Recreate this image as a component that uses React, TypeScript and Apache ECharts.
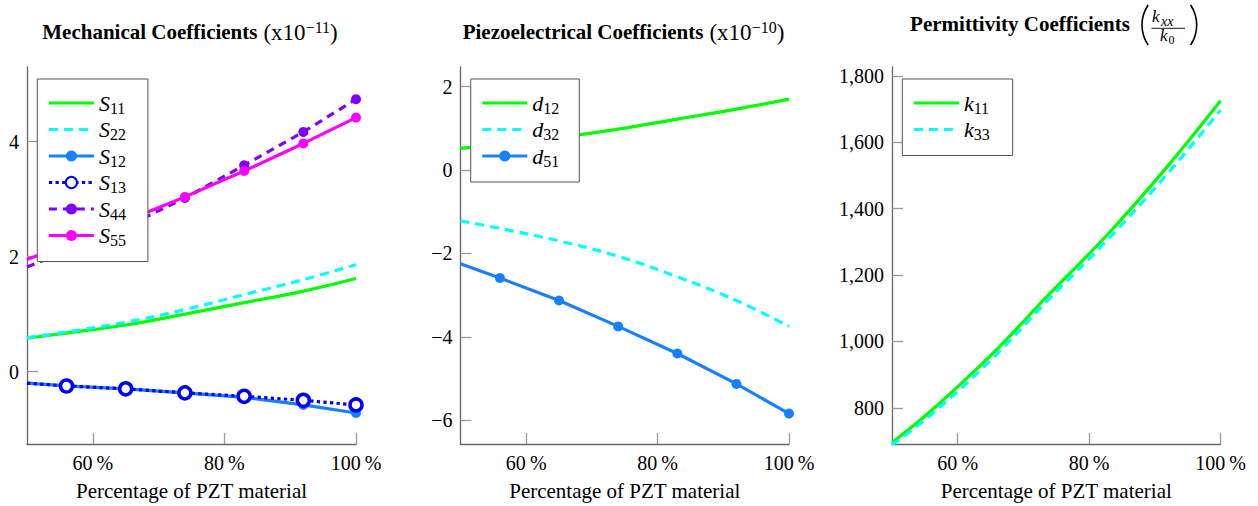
import React, { useEffect, useRef } from 'react';
import * as echarts from 'echarts';

// ---- data ----
const pct = [50, 56, 65, 74, 83, 92, 100];

const S11 = [0.58, 0.67, 0.81, 1.0, 1.2, 1.4, 1.62];
const S22 = [0.59, 0.69, 0.86, 1.08, 1.34, 1.6, 1.86];
const S12 = [-0.2, -0.25, -0.3, -0.37, -0.45, -0.58, -0.72];
const S13 = [-0.2, -0.25, -0.3, -0.37, -0.43, -0.5, -0.58];
const S44 = [1.82, 2.1, 2.52, 3.02, 3.59, 4.17, 4.74];
const S55 = [1.95, 2.21, 2.62, 3.04, 3.49, 3.97, 4.42];

const d12 = [0.52, 0.62, 0.78, 0.98, 1.22, 1.46, 1.7];
const d32 = [-1.22, -1.4, -1.7, -2.07, -2.56, -3.13, -3.75];
const d51 = [-2.25, -2.59, -3.13, -3.75, -4.4, -5.13, -5.84];

const k11 = [695, 792, 957, 1144, 1326, 1529, 1725];
const k33 = [688, 780, 943, 1130, 1310, 1507, 1697];

const xTicks = [60, 80, 100];
const yTicks1 = [0, 2, 4];
const yTicks2 = [-6, -4, -2, 0, 2];
const yTicks3 = [800, 1000, 1200, 1400, 1600, 1800];

const xLabel = 'Percentage of PZT material';

// ---- styling ----
const FONT = 'Liberation Serif';
const GREEN = '#00ff00';
const CYAN = '#00ffff';
const AZURE = '#1880ff';
const BLUE = '#0000ff';
const VIOLET = '#8000ff';
const MAGENTA = '#ff00ff';

const plainNames = ['S11', 'S22', 'd12', 'd32', 'k11', 'k33'];

const grids = [
  { left: 27, top: 67, width: 329, height: 378 },
  { left: 460.5, top: 67, width: 328.5, height: 378 },
  { left: 892, top: 67, width: 328.5, height: 378 },
];

function pts(ys: number[], marked: boolean) {
  return pct.map((x, i) =>
    marked && i > 0 ? [x, ys[i]] : { value: [x, ys[i]], symbol: 'none' }
  );
}

const fmtNum = (v: number) => {
  const a = Math.abs(v).toLocaleString('en-US');
  return v < 0 ? '\u2212' + a : a;
};

function xAxis(gi: number) {
  return {
    type: 'value',
    gridIndex: gi,
    min: 50,
    max: 100,
    name: xLabel,
    nameLocation: 'middle',
    nameGap: 36,
    nameTextStyle: { fontFamily: FONT, fontSize: 21, color: '#000' },
    axisLine: { show: true, onZero: false, lineStyle: { color: '#666', width: 1.3 } },
    axisTick: { show: true, inside: true, length: 11, customValues: xTicks, lineStyle: { color: '#999', width: 1.3 } },
    axisLabel: {
      customValues: xTicks,
      formatter: (v: number) => `${v}\u2009%`,
      margin: 9,
      fontFamily: FONT,
      fontSize: 20,
      color: '#000',
    },
    splitLine: { show: false },
  };
}

function yAxis(gi: number, min: number, max: number, ticks: number[]) {
  return {
    type: 'value',
    gridIndex: gi,
    min,
    max,
    axisLine: { show: true, onZero: false, lineStyle: { color: '#666', width: 1.3 } },
    axisTick: { show: true, inside: true, length: 11, customValues: ticks, lineStyle: { color: '#999', width: 1.3 } },
    axisLabel: {
      customValues: ticks,
      formatter: (v: number) => fmtNum(v),
      margin: 8,
      fontFamily: FONT,
      fontSize: 20,
      color: '#000',
    },
    splitLine: { show: false },
  };
}

const legendRich = {
  i: { fontFamily: FONT, fontStyle: 'italic', fontSize: 22, lineHeight: 26, color: '#000' },
  s: { fontFamily: FONT, fontSize: 16, lineHeight: 12, verticalAlign: 'bottom', color: '#000' },
};

function legend(names: string[], left: number, top: number, rightPad: number) {
  return {
    data: names.map((n) =>
      plainNames.includes(n) ? { name: n, itemStyle: { opacity: 0 } } : { name: n }
    ),
    orient: 'vertical',
    left,
    top,
    itemWidth: 45,
    itemHeight: 14,
    itemGap: 2.5,
    padding: [13, rightPad, 13, 10],
    backgroundColor: '#fff',
    borderColor: '#555',
    borderWidth: 1,
    borderRadius: 0,
    selectedMode: false,
    lineStyle: { width: 3.2 },
    textStyle: { fontFamily: FONT, fontSize: 20, color: '#000', rich: legendRich },
    formatter: (n: string) => `{i|${n[0]}}{s|${n.slice(1)}}`,
  };
}

function plain(name: string, gi: number, ys: number[], color: string, dash?: number[]) {
  return {
    type: 'line',
    name,
    xAxisIndex: gi,
    yAxisIndex: gi,
    data: pts(ys, false),
    symbol: 'none',
    smooth: 0.4,
    color,
    lineStyle: { color, width: 3.2, type: dash ? dash : 'solid' },
  };
}

function marked(name: string, gi: number, ys: number[], color: string, opts: any = {}) {
  return {
    type: 'line',
    name,
    xAxisIndex: gi,
    yAxisIndex: gi,
    data: pts(ys, true),
    symbol: 'circle',
    symbolSize: opts.size ?? 10,
    showSymbol: true,
    color,
    itemStyle: opts.open
      ? { color: '#fff', borderColor: color, borderWidth: 3.5 }
      : { color, borderColor: color, borderWidth: 0 },
    lineStyle: { color, width: 3.2, type: opts.dash ?? 'solid' },
    z: opts.z ?? 2,
  };
}

const titleRich = {
  b: { fontFamily: FONT, fontWeight: 'bold', fontSize: 21, lineHeight: 26, color: '#000' },
  m: { fontFamily: FONT, fontSize: 23, lineHeight: 26, color: '#000' },
  sp: { fontSize: 21, lineHeight: 26, width: 6 },
  sup: { fontFamily: FONT, fontSize: 16, lineHeight: 20, verticalAlign: 'top', color: '#000' },
};

export default function App() {
  const ref = useRef<HTMLDivElement>(null);
  useEffect(() => {
    if (!ref.current) return;
    const chart = echarts.init(ref.current, undefined, { renderer: 'svg' });
    const option: any = {
      animation: false,
      backgroundColor: '#fff',
      grid: grids,
      xAxis: [xAxis(0), xAxis(1), xAxis(2)],
      yAxis: [
        yAxis(0, -1.26, 5.3, yTicks1),
        yAxis(1, -6.57, 2.47, yTicks2),
        yAxis(2, 691, 1827, yTicks3),
      ],
      legend: [
        legend(['S11', 'S22', 'S12', 'S13', 'S44', 'S55'], 37.3, 79, 22),
        legend(['d12', 'd32', 'd51'], 470.7, 79, 20),
        legend(['k11', 'k33'], 902.3, 79, 23),
      ],
      series: [
        plain('S11', 0, S11, GREEN),
        plain('S22', 0, S22, CYAN, [9, 6]),
        marked('S12', 0, S12, AZURE, { size: 10 }),
        marked('S13', 0, S13, BLUE, { open: true, size: 12, dash: [3.3, 3.3], z: 3 }),
        marked('S44', 0, S44, VIOLET, { dash: [8, 6] }),
        marked('S55', 0, S55, MAGENTA),
        plain('d12', 1, d12, GREEN),
        plain('d32', 1, d32, CYAN, [9, 6]),
        marked('d51', 1, d51, AZURE),
        plain('k11', 2, k11, GREEN),
        plain('k33', 2, k33, CYAN, [9, 6]),
      ],
      graphic: [
        {
          type: 'text',
          style: {
            x: 190,
            y: 32,
            align: 'center',
            verticalAlign: 'middle',
            text: '{b|Mechanical Coefficients}{sp|}{m|(x10}{sup|\u221211}{m|)}',
            rich: titleRich,
          },
        },
        {
          type: 'text',
          style: {
            x: 623.5,
            y: 32,
            align: 'center',
            verticalAlign: 'middle',
            text: '{b|Piezoelectrical Coefficients}{sp|}{m|(x10}{sup|\u221210}{m|)}',
            rich: titleRich,
          },
        },
        {
          type: 'text',
          style: {
            x: 1020,
            y: 24,
            align: 'center',
            verticalAlign: 'middle',
            text: 'Permittivity Coefficients',
            fontFamily: FONT,
            fontWeight: 'bold',
            fontSize: 21,
            fill: '#000',
          },
        },
        {
          type: 'arc',
          shape: { cx: 1178, cy: 25, r: 36, startAngle: Math.PI - 0.59, endAngle: Math.PI + 0.59, clockwise: true },
          style: { stroke: '#000', lineWidth: 1.6, fill: 'none' },
        },
        {
          type: 'arc',
          shape: { cx: 1160.7, cy: 25, r: 36, startAngle: -0.59, endAngle: 0.59, clockwise: true },
          style: { stroke: '#000', lineWidth: 1.6, fill: 'none' },
        },
        {
          type: 'line',
          shape: { x1: 1151.5, y1: 28.3, x2: 1185, y2: 28.3 },
          style: { stroke: '#000', lineWidth: 0.9 },
        },
        {
          type: 'text',
          style: { x: 1152, y: 25, align: 'left', verticalAlign: 'bottom', text: 'k', fontFamily: FONT, fontStyle: 'italic', fontSize: 17, fill: '#000' },
        },
        {
          type: 'text',
          style: { x: 1161, y: 28, align: 'left', verticalAlign: 'bottom', text: 'xx', fontFamily: FONT, fontStyle: 'italic', fontSize: 14, fill: '#000' },
        },
        {
          type: 'text',
          style: { x: 1160, y: 44, align: 'left', verticalAlign: 'bottom', text: 'k', fontFamily: FONT, fontStyle: 'italic', fontSize: 17, fill: '#000' },
        },
        {
          type: 'text',
          style: { x: 1168.5, y: 46, align: 'left', verticalAlign: 'bottom', text: '0', fontFamily: FONT, fontSize: 12, fill: '#000' },
        },
      ],
    };
    chart.setOption(option);
    return () => chart.dispose();
  }, []);
  return (
    <div
      ref={ref}
      style={{ position: 'absolute', left: 0, top: 0, width: 1258, height: 506 }}
    />
  );
}
